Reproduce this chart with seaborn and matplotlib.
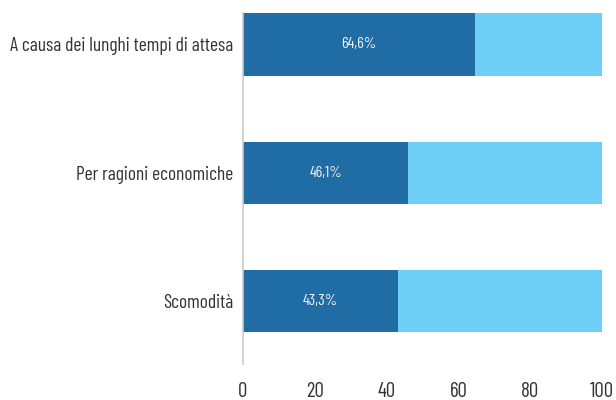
import matplotlib
matplotlib.use("Agg")
import matplotlib.pyplot as plt
import seaborn as sns
import pandas as pd
from matplotlib import font_manager

categories = ["A causa dei lunghi tempi di attesa", "Per ragioni economiche", "Scomodità"]
values = [64.6, 46.1, 43.3]
totals = [100, 100, 100]
value_labels = ["64,6%", "46,1%", "43,3%"]
xticks = [0, 20, 40, 60, 80, 100]

sns.set_theme(style="white")
names = {f.name for f in font_manager.fontManager.ttflist}
fam = "DejaVu Sans"
for cand in ["Barlow Condensed", "Roboto Condensed", "Archivo Narrow", "Asap Condensed"]:
    if cand in names:
        fam = cand
        break
plt.rcParams["font.family"] = [fam, "DejaVu Sans"]

df = pd.DataFrame({"cat": categories, "val": values, "tot": totals})

fig = plt.figure(figsize=(6.16, 4.0), dpi=100)
ax = fig.add_axes([243/616, 1 - 364/400, (602 - 243)/616, (364 - 13)/400])

sns.barplot(data=df, y="cat", x="tot", color="#6dcff6", saturation=1, width=0.485,
            linewidth=0, ax=ax, orient="h")
sns.barplot(data=df, y="cat", x="val", color="#1f6da4", saturation=1, width=0.485,
            linewidth=0, ax=ax, orient="h")

for i, (v, lab) in enumerate(zip(values, value_labels)):
    ax.text(v / 2, i, lab, ha="center", va="center", color="#f0f0f0", fontsize=11.5)

ax.set_xlim(0, 100)
ax.set_ylim(2.49, -0.245)
ax.set_xticks(xticks)
ax.set_xticklabels([str(t) for t in xticks])
ax.set_xlabel("")
ax.set_ylabel("")
ax.tick_params(axis="x", length=0, pad=13, labelsize=15, labelcolor="#333333")
ax.tick_params(axis="y", length=0, pad=7, labelsize=14, labelcolor="#333333")
for s in ["top", "right", "bottom"]:
    ax.spines[s].set_visible(False)
ax.spines["left"].set_color("#cccccc")
ax.spines["left"].set_linewidth(1.2)

fig.savefig("out.png", dpi=100)
